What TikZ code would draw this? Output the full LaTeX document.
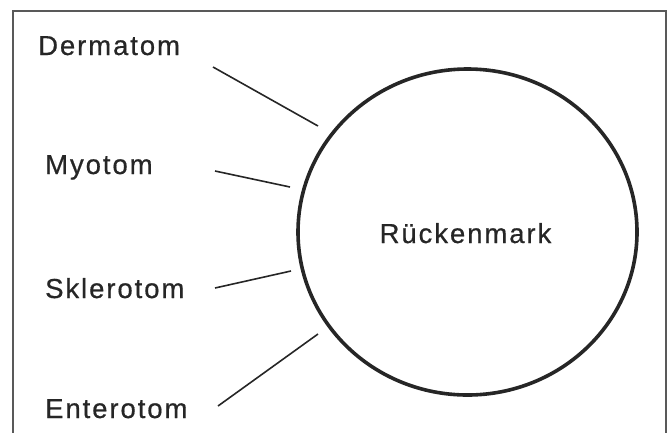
\documentclass[tikz,border=0pt]{standalone}
\usepackage{fontspec}
\setmainfont{Liberation Sans}[LetterSpace=7,FakeBold=0.6]
\usetikzlibrary{shapes.geometric}

\begin{document}
\begin{tikzpicture}[
    x=1pt,
    y=-1pt,
    font=\fontsize{27.5}{32}\selectfont,
    label/.style={
        anchor=base west,
        inner sep=0pt,
        text=black!85
    },
    cord/.style={
        draw=black!85,
        ellipse,
        line width=3.6pt,
        minimum width=339pt,
        minimum height=326pt,
        inner sep=0pt
    },
    spoke/.style={
        draw=black!85,
        line width=1.6pt
    },
    frame/.style={
        draw=black!65,
        line width=1.3pt
    }
]

\useasboundingbox (0,0) rectangle (669,432);

\draw[frame] (13,440) -- (13,11) -- (666,11) -- (666,440);

\node[cord] (mark) at (467.5,232) {};

\node[label, anchor=base] (markText) at (465.5,243)
    {Rückenmark};

\node[label] (derm) at (38,55)  {Dermatom};
\node[label] (myo)  at (45,174) {Myotom};
\node[label] (skl)  at (45,298) {Sklerotom};
\node[label] (ent)  at (45,418) {Enterotom};

% start and end points of the spokes
\coordinate (dermA) at (213,67);
\coordinate (dermB) at (318,126);
\coordinate (myoA)  at (215,171);
\coordinate (myoB)  at (290,187);
\coordinate (sklA)  at (215,288);
\coordinate (sklB)  at (291,271);
\coordinate (entA)  at (218,406);
\coordinate (entB)  at (318,334);

\draw[spoke] (dermA) -- (dermB);
\draw[spoke] (myoA)  -- (myoB);
\draw[spoke] (sklA)  -- (sklB);
\draw[spoke] (entA)  -- (entB);

\end{tikzpicture}
\end{document}
